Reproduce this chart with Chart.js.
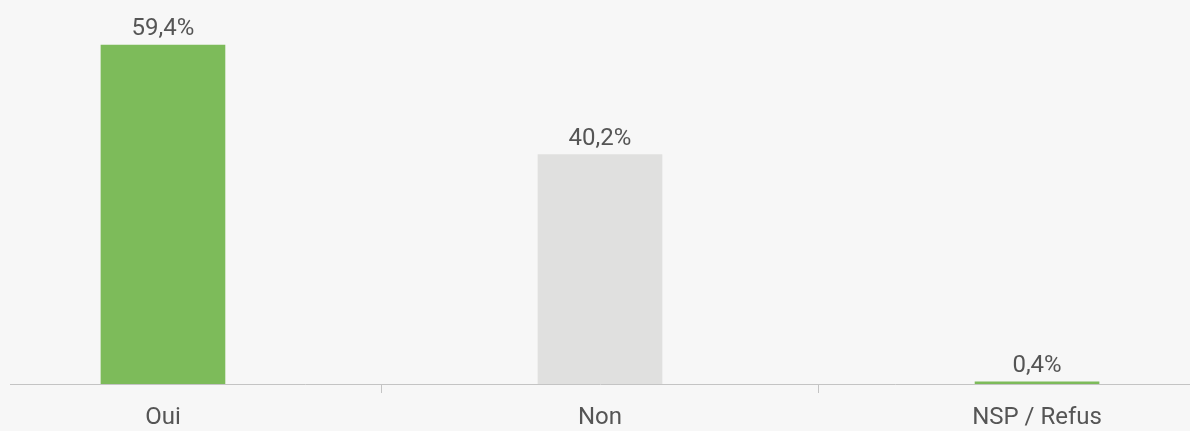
<!DOCTYPE html>
<html lang="fr">
<head>
<meta charset="utf-8">
<script src="https://cdn.jsdelivr.net/npm/chart.js@4/dist/chart.umd.min.js"></script>
<style>
  html, body { margin: 0; padding: 0; background: #f7f7f7; overflow: hidden; }
  #wrap { width: 1190px; height: 431px; position: relative; }
</style>
</head>
<body>
<div id="wrap"><canvas id="chart"></canvas></div>
<script>
"use strict";

const categories = ["Oui", "Non", "NSP / Refus"];
const shares     = [59.4, 40.2, 0.4];

const GREEN = "#7dbb5a";
const GREY  = "#e0e0df";
const TEXT  = "#555555";
const AXIS  = "#c4c4c4";
const barColors = [GREEN, GREY, GREEN];

const fmtPct = v => v.toFixed(1).replace(".", ",") + "%";

// value labels above each bar
const valueLabels = {
  id: "valueLabels",
  afterDatasetsDraw(chart) {
    const { ctx } = chart;
    const meta = chart.getDatasetMeta(0);
    ctx.save();
    ctx.font = "24px Roboto";
    ctx.fillStyle = TEXT;
    ctx.textAlign = "center";
    ctx.textBaseline = "alphabetic";
    meta.data.forEach((bar, i) => {
      ctx.fillText(fmtPct(shares[i]), bar.x, bar.y - 10);
    });
    ctx.restore();
  },
};

new Chart(document.getElementById("chart"), {
  type: "bar",
  data: {
    datasets: [{
      data: shares.map((v, i) => ({ x: i, y: v })),
      backgroundColor: barColors,
      barThickness: 124,
    }],
  },
  options: {
    responsive: true,
    maintainAspectRatio: false,
    animation: false,
    layout: { padding: { left: 10, right: 0, top: 0, bottom: 0 } },
    plugins: { legend: { display: false }, tooltip: { enabled: false } },
    scales: {
      x: {
        type: "linear",
        offset: false,
        min: -0.35,
        max: categories.length - 0.65,
        afterBuildTicks: s => { s.ticks = categories.map((_, i) => ({ value: i })); },
        afterFit: s => { s.height = 47; },
        ticks: {
          callback: v => categories[v],
          font: { family: "Roboto", size: 24, lineHeight: 1 },
          color: TEXT,
          padding: 13,
          autoSkip: false,
          maxRotation: 0,
        },
        grid: { offset: true, drawOnChartArea: false, tickLength: 9, tickColor: AXIS },
        border: { color: AXIS },
      },
      y: { display: false, min: 0, max: 67.3 },
    },
  },
  plugins: [valueLabels],
});
</script>
</body>
</html>
